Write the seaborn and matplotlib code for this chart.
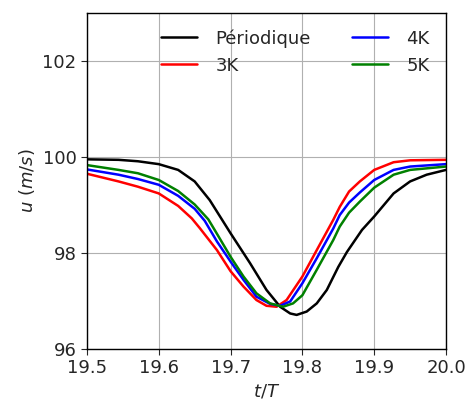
import numpy as np
import pandas as pd
import matplotlib
matplotlib.use("Agg")
import matplotlib.pyplot as plt
import seaborn as sns

# ------------------------------------------------------------
# Données
# ------------------------------------------------------------
t_per = [19.5, 19.544, 19.571, 19.6, 19.627, 19.650, 19.671, 19.7, 19.727,
         19.750, 19.769, 19.783, 19.792, 19.806, 19.820, 19.834, 19.850,
         19.862, 19.883, 19.9, 19.927, 19.950, 19.973, 20.0]
u_per = [99.95, 99.94, 99.91, 99.85, 99.73, 99.49, 99.10, 98.41, 97.79,
         97.23, 96.88, 96.74, 96.71, 96.78, 96.95, 97.23, 97.71,
         98.02, 98.48, 98.76, 99.24, 99.49, 99.63, 99.73]

t_3k = [19.5, 19.544, 19.571, 19.6, 19.627, 19.646, 19.657, 19.681, 19.7,
        19.718, 19.736, 19.750, 19.764, 19.778, 19.8, 19.820, 19.843, 19.852,
        19.865, 19.880, 19.9, 19.927, 19.950, 20.0]
u_3k = [99.65, 99.49, 99.38, 99.24, 98.98, 98.72, 98.52, 98.06, 97.62,
        97.30, 97.02, 96.90, 96.88, 97.02, 97.51, 98.06, 98.69, 98.96,
        99.28, 99.49, 99.73, 99.89, 99.93, 99.94]

t_4k = [19.5, 19.544, 19.571, 19.6, 19.627, 19.650, 19.664, 19.681, 19.7,
        19.718, 19.736, 19.755, 19.769, 19.783, 19.8, 19.820, 19.843, 19.852,
        19.865, 19.880, 19.9, 19.927, 19.950, 20.0]
u_4k = [99.74, 99.63, 99.54, 99.42, 99.19, 98.92, 98.67, 98.24, 97.82,
        97.44, 97.09, 96.94, 96.90, 96.99, 97.37, 97.89, 98.51, 98.79,
        99.05, 99.26, 99.52, 99.73, 99.80, 99.85]

t_5k = [19.5, 19.544, 19.571, 19.6, 19.627, 19.650, 19.669, 19.681, 19.7,
        19.718, 19.736, 19.755, 19.773, 19.787, 19.8, 19.820, 19.843, 19.852,
        19.865, 19.880, 19.9, 19.927, 19.950, 20.0]
u_5k = [99.83, 99.73, 99.66, 99.52, 99.29, 99.01, 98.70, 98.40, 97.92,
        97.51, 97.16, 96.95, 96.88, 96.95, 97.12, 97.65, 98.27, 98.55,
        98.84, 99.07, 99.36, 99.63, 99.73, 99.80]

labels = ["Périodique", "3K", "4K", "5K"]
colors = ["black", "red", "blue", "green"]

# ------------------------------------------------------------
# Tracé
# ------------------------------------------------------------
sns.set_style("ticks")
plt.rcParams["font.family"] = ["DejaVu Sans"]
plt.rcParams["font.size"] = 13

frames = []
for lab, t, u in zip(labels, [t_per, t_3k, t_4k, t_5k], [u_per, u_3k, u_4k, u_5k]):
    frames.append(pd.DataFrame({"t": t, "u": u, "cas": lab}))
df = pd.concat(frames, ignore_index=True)

fig = plt.figure(figsize=(4.7, 4.03), dpi=100)
ax = fig.add_axes([0.185, 0.134, 0.764, 0.834])

sns.lineplot(data=df, x="t", y="u", hue="cas", hue_order=labels,
             palette=dict(zip(labels, colors)), linewidth=1.8, ax=ax)

ax.set_xlim(19.5, 20.0)
ax.set_ylim(96, 103)
ax.set_xticks([19.5, 19.6, 19.7, 19.8, 19.9, 20.0])
ax.set_yticks([96, 98, 100, 102])
ax.grid(True, color="#b0b0b0", linewidth=0.8)
ax.tick_params(labelsize=13, direction="out", length=4, width=0.8)
for s in ax.spines.values():
    s.set_color("black")
    s.set_linewidth(1.0)
ax.set_xlabel("$t/T$", fontsize=13)
ax.set_ylabel("$u$ ($m/s$)", fontsize=13)

leg = ax.legend(loc="upper right", ncol=2, frameon=False, fontsize=13,
                handlelength=2.0, handletextpad=1.0, columnspacing=2.3)
leg.set_title(None)

fig.savefig("out.png", dpi=100)
